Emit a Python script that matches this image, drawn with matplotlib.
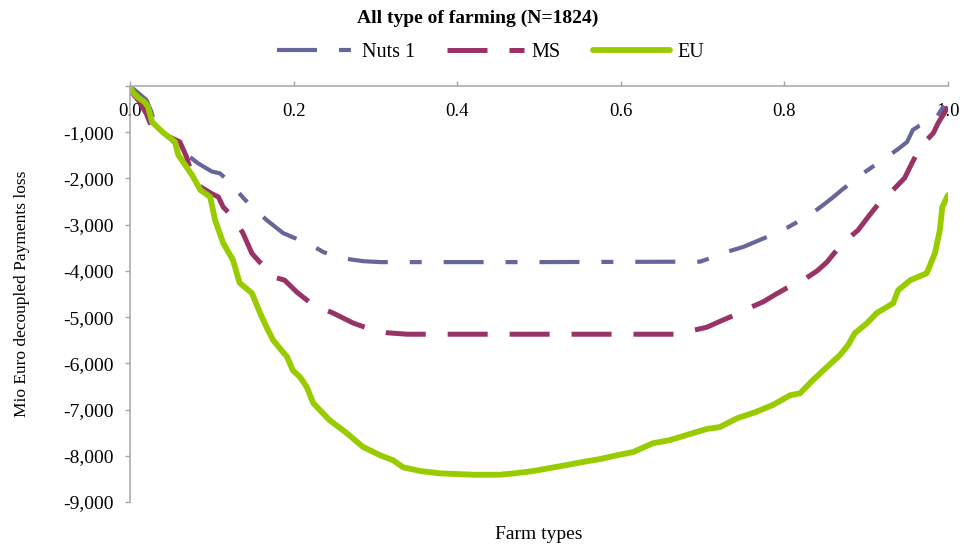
import matplotlib
matplotlib.use('Agg')
import matplotlib.pyplot as plt
from matplotlib.ticker import FuncFormatter

plt.rcParams['font.family'] = ['Liberation Serif', 'DejaVu Serif']
plt.rcParams['lines.scale_dashes'] = False

# share of farm types (sorted) vs. cumulated payments loss, Mio Euro
nuts1_x = [0.0, 0.01, 0.02, 0.026, 0.03, 0.04, 0.05, 0.063, 0.075, 0.083, 0.1, 0.11,
           0.12, 0.13, 0.14, 0.151, 0.167, 0.187, 0.2, 0.216, 0.236, 0.25, 0.265, 0.285,
           0.306, 0.5, 0.697, 0.71, 0.719, 0.735, 0.75, 0.774, 0.79, 0.803, 0.82, 0.831,
           0.847, 0.86, 0.87, 0.885, 0.896, 0.91, 0.921, 0.929, 0.94, 0.95, 0.957, 0.965,
           0.974, 0.982, 0.988, 0.993, 1.0]
nuts1_y = [0, -150, -300, -550, -800, -1000, -1150, -1420, -1560, -1670, -1850, -1890,
           -2050, -2250, -2450, -2640, -2900, -3180, -3280, -3380, -3590, -3680, -3740, -3790,
           -3810, -3810, -3800, -3720, -3660, -3560, -3480, -3300, -3180, -3070, -2900, -2790,
           -2580, -2400, -2250, -2050, -1890, -1720, -1600, -1490, -1350, -1210, -950, -860,
           -800, -780, -620, -480, -300]

ms_x = [0.0, 0.01, 0.02, 0.028, 0.043, 0.061, 0.069, 0.076, 0.086, 0.1, 0.108, 0.114,
        0.126, 0.138, 0.149, 0.158, 0.165, 0.175, 0.189, 0.204, 0.224, 0.248, 0.273, 0.297,
        0.315, 0.339, 0.5, 0.666, 0.685, 0.705, 0.724, 0.74, 0.756, 0.774, 0.79, 0.803,
        0.823, 0.84, 0.852, 0.864, 0.878, 0.89, 0.902, 0.915, 0.929, 0.947, 0.955, 0.963,
        0.975, 0.982, 0.988, 1.0]
ms_y = [-100, -300, -600, -950, -1060, -1210, -1530, -1930, -2180, -2330, -2400, -2620,
        -2840, -3180, -3620, -3800, -3910, -4130, -4200, -4460, -4740, -4910, -5130, -5280,
        -5340, -5370, -5370, -5370, -5300, -5220, -5070, -4950, -4810, -4670, -4500, -4370,
        -4200, -4000, -3810, -3550, -3300, -3120, -2840, -2550, -2320, -1990, -1700, -1430,
        -1150, -1020, -800, -450]

eu_x = [0.0, 0.004, 0.01, 0.018, 0.022, 0.027, 0.04, 0.055, 0.059, 0.069, 0.076, 0.086,
        0.098, 0.104, 0.114, 0.126, 0.134, 0.149, 0.159, 0.167, 0.175, 0.183, 0.192, 0.199,
        0.208, 0.216, 0.224, 0.244, 0.265, 0.285, 0.306, 0.322, 0.334, 0.355, 0.379, 0.42,
        0.452, 0.47, 0.493, 0.515, 0.534, 0.555, 0.575, 0.595, 0.615, 0.639, 0.66, 0.688,
        0.705, 0.721, 0.742, 0.764, 0.786, 0.807, 0.819, 0.835, 0.852, 0.868, 0.878, 0.886,
        0.901, 0.913, 0.933, 0.939, 0.954, 0.974, 0.984, 0.99, 0.993, 1.0]
eu_y = [0, -150, -250, -350, -450, -780, -1000, -1210, -1490, -1750, -1930, -2250,
        -2400, -2900, -3400, -3770, -4260, -4480, -4910, -5220, -5500, -5670, -5860, -6150,
        -6300, -6510, -6860, -7230, -7510, -7810, -7990, -8100, -8250, -8330, -8380, -8410,
        -8410, -8380, -8330, -8260, -8200, -8130, -8070, -7990, -7920, -7730, -7660, -7510,
        -7420, -7380, -7190, -7060, -6900, -6690, -6650, -6360, -6080, -5820, -5600, -5350,
        -5130, -4910, -4700, -4420, -4200, -4050, -3620, -3120, -2620, -2360]

x_ticks = [0.0, 0.2, 0.4, 0.6, 0.8, 1.0]
y_ticks = [0, -1000, -2000, -3000, -4000, -5000, -6000, -7000, -8000, -9000]

fig = plt.figure(figsize=(9.64, 5.45), dpi=100)
ax = fig.add_axes([130 / 964, 1 - 502 / 545, 818 / 964, 416 / 545])

ax.plot(nuts1_x, nuts1_y, color='#666699', lw=3.0, dashes=(28.8, 15.8, 8.6, 15.8),
        label='Nuts 1')
ax.plot(ms_x, ms_y, color='#993366', lw=3.6, dashes=(28.8, 15.8), label='MS')
ax.plot(eu_x, eu_y, color='#99cc00', lw=4.2, solid_capstyle='round',
        solid_joinstyle='round', label='EU')

ax.set_xlim(0, 1)
ax.set_ylim(-9000, 0)
ax.set_xticks(x_ticks)
ax.set_yticks(y_ticks)
ax.xaxis.set_major_formatter(FuncFormatter(lambda v, p: '%.1f' % v))
ax.yaxis.set_major_formatter(FuncFormatter(lambda v, p: '' if v == 0 else '{:,.0f}'.format(v)))

for s in ['right', 'bottom']:
    ax.spines[s].set_visible(False)
for s in ['left', 'top']:
    ax.spines[s].set_color('#a6a6a6')
    ax.spines[s].set_linewidth(1.1)

ax.tick_params(axis='x', top=True, bottom=False, labeltop=True, labelbottom=False,
               direction='out', length=3.5, width=1, color='#a6a6a6', pad=-28,
               labelsize=13.5)
ax.tick_params(axis='y', direction='out', length=3.5, width=1, color='#a6a6a6',
               labelsize=14, pad=8)

ax.xaxis.set_label_position('bottom')
ax.set_xlabel('Farm types', fontsize=14, labelpad=17)
ax.set_ylabel('Mio Euro decoupled Payments loss', fontsize=12.5, labelpad=24)

fig.text(478 / 964, 1 - 18 / 545, 'All type of farming (N=1824)', fontsize=14,
         fontweight='bold', ha='center', va='center')
fig.legend(loc='center', bbox_to_anchor=(491 / 964, 1 - 52 / 545), ncol=3,
           frameon=False, fontsize=14.5, handlelength=3.8, handletextpad=0.4,
           columnspacing=1.6)

fig.savefig('out.png', dpi=100)
